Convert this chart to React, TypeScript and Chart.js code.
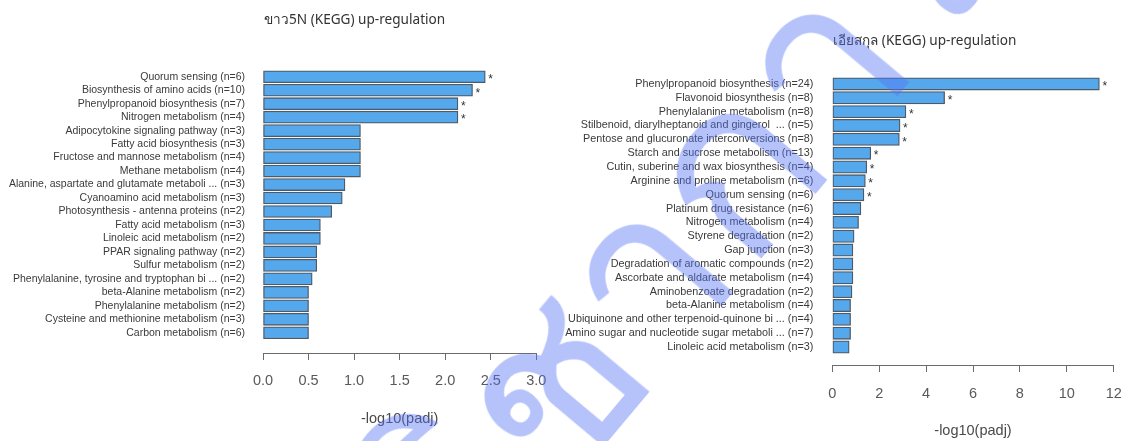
import { useEffect, useRef } from "react";
import { Chart, registerables } from "chart.js";

Chart.register(...registerables);

// ---- Left panel: ขาว5N ----
const leftTitle = "ขาว5N (KEGG) up-regulation";
const leftCategories = [
  "Quorum sensing (n=6)",
  "Biosynthesis of amino acids (n=10)",
  "Phenylpropanoid biosynthesis (n=7)",
  "Nitrogen metabolism (n=4)",
  "Adipocytokine signaling pathway (n=3)",
  "Fatty acid biosynthesis (n=3)",
  "Fructose and mannose metabolism (n=4)",
  "Methane metabolism (n=4)",
  "Alanine, aspartate and glutamate metaboli ... (n=3)",
  "Cyanoamino acid metabolism (n=3)",
  "Photosynthesis - antenna proteins (n=2)",
  "Fatty acid metabolism (n=3)",
  "Linoleic acid metabolism (n=2)",
  "PPAR signaling pathway (n=2)",
  "Sulfur metabolism (n=2)",
  "Phenylalanine, tyrosine and tryptophan bi ... (n=2)",
  "beta-Alanine metabolism (n=2)",
  "Phenylalanine metabolism (n=2)",
  "Cysteine and methionine metabolism (n=3)",
  "Carbon metabolism (n=6)",
];
const leftValues = [
  2.44, 2.3, 2.14, 2.14, 1.07, 1.07, 1.07, 1.07, 0.9, 0.87,
  0.755, 0.63, 0.63, 0.59, 0.59, 0.54, 0.5, 0.5, 0.5, 0.5,
];
const leftSignificant = [
  true, true, true, true, false, false, false, false, false, false,
  false, false, false, false, false, false, false, false, false, false,
];
const leftTickValues = [0, 0.5, 1, 1.5, 2, 2.5, 3];
const leftTickLabels = ["0.0", "0.5", "1.0", "1.5", "2.0", "2.5", "3.0"];

// ---- Right panel: เอียสกุล ----
const rightTitle = "เอียสกุล (KEGG) up-regulation";
const rightCategories = [
  "Phenylpropanoid biosynthesis (n=24)",
  "Flavonoid biosynthesis (n=8)",
  "Phenylalanine metabolism (n=8)",
  "Stilbenoid, diarylheptanoid and gingerol  ... (n=5)",
  "Pentose and glucuronate interconversions (n=8)",
  "Starch and sucrose metabolism (n=13)",
  "Cutin, suberine and wax biosynthesis (n=4)",
  "Arginine and proline metabolism (n=6)",
  "Quorum sensing (n=6)",
  "Platinum drug resistance (n=6)",
  "Nitrogen metabolism (n=4)",
  "Styrene degradation (n=2)",
  "Gap junction (n=3)",
  "Degradation of aromatic compounds (n=2)",
  "Ascorbate and aldarate metabolism (n=4)",
  "Aminobenzoate degradation (n=2)",
  "beta-Alanine metabolism (n=4)",
  "Ubiquinone and other terpenoid-quinone bi ... (n=4)",
  "Amino sugar and nucleotide sugar metaboli ... (n=7)",
  "Linoleic acid metabolism (n=3)",
];
const rightValues = [
  11.39, 4.79, 3.14, 2.89, 2.86, 1.64, 1.47, 1.41, 1.35, 1.22,
  1.12, 0.93, 0.88, 0.88, 0.88, 0.84, 0.78, 0.78, 0.78, 0.72,
];
const rightSignificant = [
  true, true, true, true, true, true, true, true, true, false,
  false, false, false, false, false, false, false, false, false, false,
];
const rightTickValues = [0, 2, 4, 6, 8, 10, 12];
const rightTickLabels = ["0", "2", "4", "6", "8", "10", "12"];

const axisTitle = "-log10(padj)";
const watermarkText = "วิชาการ";

const BAR_FILL = "#56A8EC";
const BAR_EDGE = "#4E5A66";
const AXIS_COLOR = "#6B6B6B";
const LABEL_FONT = "'Liberation Sans', Arial, sans-serif";
const TITLE_FONT = "'Noto Sans', 'DejaVu Sans', sans-serif";

type Panel = {
  title: string;
  categories: string[];
  values: number[];
  significant: boolean[];
  tickValues: number[];
  tickLabels: string[];
  width: number;
  height: number;
  areaLeft: number;
  areaRight: number;
  areaTop: number;
  areaBottom: number;
  slotMax: number;
  barThickness: number;
  labelSize: number;
  labelPad: number;
  tickPad: number;
  titlePadBottom: number;
  headY: number;
};

// Significance stars drawn just past the end of each flagged bar
const starPlugin = {
  id: "sigStars",
  afterDatasetsDraw(chart: any, _args: any, opts: any) {
    const meta = chart.getDatasetMeta(0);
    const ctx = chart.ctx;
    ctx.save();
    ctx.font = `12px ${LABEL_FONT}`;
    ctx.fillStyle = "#333333";
    ctx.textAlign = "left";
    ctx.textBaseline = "middle";
    meta.data.forEach((bar: any, i: number) => {
      if (opts.flags && opts.flags[i]) ctx.fillText("*", bar.x + 3, bar.y + 3);
    });
    ctx.restore();
  },
};

// Panel heading aligned with the left edge of the plotting area
const headPlugin = {
  id: "panelHead",
  afterDraw(chart: any, _args: any, opts: any) {
    const ctx = chart.ctx;
    ctx.save();
    ctx.font = `13.6px ${TITLE_FONT}`;
    ctx.fillStyle = "#333333";
    ctx.textAlign = "left";
    ctx.textBaseline = "middle";
    ctx.fillText(opts.text, chart.chartArea.left + 1, opts.y);
    ctx.restore();
  },
};

function buildConfig(p: Panel): any {
  return {
    type: "bar",
    data: {
      datasets: [
        {
          data: p.values.map((v, i) => ({ x: v, y: i })),
          backgroundColor: BAR_FILL,
          borderColor: BAR_EDGE,
          borderWidth: 1.3,
          borderSkipped: false,
          barThickness: p.barThickness,
        },
      ],
    },
    options: {
      indexAxis: "y",
      animation: false,
      responsive: false,
      layout: {
        padding: { left: 0, right: p.width - p.areaRight, top: p.areaTop, bottom: 0 },
      },
      plugins: {
        legend: { display: false },
        tooltip: { enabled: false },
        title: { display: false },
        sigStars: { flags: p.significant },
        panelHead: { text: p.title, y: p.headY },
      },
      scales: {
        x: {
          type: "linear",
          position: "bottom",
          offset: false,
          min: p.tickValues[0],
          max: p.tickValues[p.tickValues.length - 1],
          afterBuildTicks: (s: any) => {
            s.ticks = p.tickValues.map((v) => ({ value: v }));
          },
          afterFit: (s: any) => {
            s.height = p.height - p.areaBottom;
          },
          ticks: {
            callback: (_v: any, i: number) => p.tickLabels[i],
            color: "#595959",
            font: { family: LABEL_FONT, size: 14.5 },
            padding: p.tickPad,
            maxRotation: 0,
            autoSkip: false,
          },
          grid: {
            drawOnChartArea: false,
            drawTicks: true,
            tickLength: 7,
            color: AXIS_COLOR,
            lineWidth: 1,
          },
          border: { display: true, color: AXIS_COLOR, width: 1 },
          title: {
            display: true,
            text: axisTitle,
            color: "#4A4A4A",
            font: { family: LABEL_FONT, size: 14.5 },
            padding: { top: 0, bottom: p.titlePadBottom },
          },
        },
        y: {
          type: "linear",
          reverse: true,
          offset: false,
          bounds: "data",
          grace: 0,
          min: -0.5,
          max: p.slotMax,
          afterBuildTicks: (s: any) => {
            s.ticks = p.categories.map((_c, i) => ({ value: i }));
          },
          afterFit: (s: any) => {
            s.width = p.areaLeft;
          },
          ticks: {
            callback: (_v: any, i: number) => p.categories[i],
            color: "#3A3A3A",
            font: { family: LABEL_FONT, size: p.labelSize },
            padding: p.labelPad,
            autoSkip: false,
          },
          grid: { display: false, drawTicks: false },
          border: { display: false },
        },
      },
    },
    plugins: [starPlugin, headPlugin],
  };
}

const leftPanel: Panel = {
  title: leftTitle,
  categories: leftCategories,
  values: leftValues,
  significant: leftSignificant,
  tickValues: leftTickValues,
  tickLabels: leftTickLabels,
  width: 560,
  height: 441,
  areaLeft: 263,
  areaRight: 536.3,
  areaTop: 70,
  areaBottom: 353,
  slotMax: 20.5,
  barThickness: 12,
  labelSize: 10.5,
  labelPad: 18,
  tickPad: 12,
  titlePadBottom: 13,
  headY: 20,
};

const rightPanel: Panel = {
  title: rightTitle,
  categories: rightCategories,
  values: rightValues,
  significant: rightSignificant,
  tickValues: rightTickValues,
  tickLabels: rightTickLabels,
  width: 600,
  height: 441,
  areaLeft: 272.3,
  areaRight: 553.7,
  areaTop: 77,
  areaBottom: 365,
  slotMax: 20.3,
  barThickness: 12.3,
  labelSize: 10.8,
  labelPad: 19,
  tickPad: 13,
  titlePadBottom: 1,
  headY: 41,
};

function PanelChart({ panel, left }: { panel: Panel; left: number }) {
  const ref = useRef<HTMLCanvasElement | null>(null);
  useEffect(() => {
    if (!ref.current) return;
    const chart = new Chart(ref.current, buildConfig(panel));
    return () => chart.destroy();
  }, [panel]);
  return (
    <canvas
      ref={ref}
      width={panel.width}
      height={panel.height}
      style={{ position: "absolute", left, top: 0, width: panel.width, height: panel.height }}
    />
  );
}

export default function App() {
  return (
    <div
      style={{
        position: "fixed",
        left: 0,
        top: 0,
        width: 1127,
        height: 441,
        background: "#ffffff",
        overflow: "hidden",
      }}
    >
      <PanelChart panel={leftPanel} left={0} />
      <PanelChart panel={rightPanel} left={560} />
      <div
        style={{
          position: "absolute",
          left: 670,
          top: 225,
          transform: "translate(-50%, -50%) rotate(-50deg)",
          fontFamily: "'Noto Sans', sans-serif",
          fontWeight: 400,
          fontSize: 235,
          lineHeight: 1,
          whiteSpace: "nowrap",
          color: "rgba(80, 112, 245, 0.42)",
          pointerEvents: "none",
        }}
      >
        {watermarkText}
      </div>
    </div>
  );
}
